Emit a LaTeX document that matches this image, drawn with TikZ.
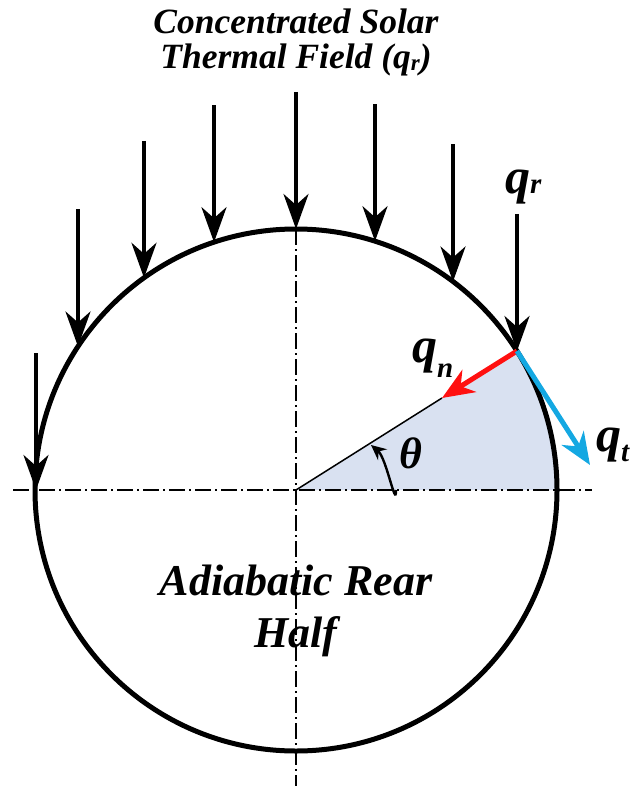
\documentclass[tikz,border=0pt]{standalone}
\usepackage{fontspec}
\setmainfont{Liberation Serif}
\usetikzlibrary{arrows.meta,calc}
\definecolor{sectorfill}{RGB}{217,225,241}
\definecolor{qnred}{RGB}{255,16,16}
\definecolor{qtblue}{RGB}{20,168,226}
\tikzset{
  axisline/.style={line width=1.5pt,dash pattern=on 16pt off 4pt on 2pt off 4pt},
  rayarrow/.style={line width=3.8pt,-{Stealth[length=35pt,width=25pt,inset=11pt]}},
  fluxarrow/.style={line width=5pt,-{Stealth[length=32pt,width=26pt,inset=10pt]}},
  lbl/.style={inner sep=0pt,font=\bfseries\itshape},
}
\newcommand{\qsym}[2]{\fontsize{50}{50}\selectfont q\raisebox{#2}{\fontsize{29}{29}\selectfont #1}}
\begin{document}
\begin{tikzpicture}[x=1pt,y=-1pt]
\useasboundingbox (0,0) rectangle (637,802);
\coordinate (c) at (296,490);
\coordinate (p) at (517,351);
% sector
\fill[sectorfill] (c) -- (557,490) arc[start angle=0,end angle=-32.35,radius=261] -- cycle;
% axes
\coordinate (hl) at (13,490); \coordinate (hr) at (592,490);
\coordinate (vt) at (296,229); \coordinate (vb) at (296,786);
\draw[axisline] (hl) -- (hr);
\draw[axisline] (vt) -- (vb);
% thin radius
\coordinate (nt) at (442,398);
\draw[line width=1.5pt] (c) -- (nt);
% circle
\node[draw,circle,line width=5pt,minimum size=522pt,inner sep=0pt] (circ) at (c) {};
% theta arc
\coordinate (a0) at (396,490);
\coordinate (a1) at (371,445);
\draw[line width=2.4pt,-{Stealth[length=15pt,width=14pt,inset=5pt]}] (a0) to[out=-90,in=-40] (a1);
% incoming rays
\foreach \n/\x/\y in {a/36/490,b/78/346.5,d/144/277.8,e/214/242.2,f/296/229,g/375/241.2,h/453/281.5,k/517/351}{
  \coordinate (e\n) at (\x,\y);
  \coordinate (s\n) at (\x,\y-137);
  \draw[rayarrow] (s\n) -- (e\n);
}
% flux arrows
\coordinate (tt) at (590,465);
\draw[fluxarrow,qnred] (p) -- (nt);
\draw[fluxarrow,qtblue] (p) -- (tt);
% labels
\node[lbl,font=\bfseries\itshape\fontsize{35.5}{35.5}\selectfont,anchor=base] (t1) at (296,34) {Concentrated Solar};
\node[lbl,font=\bfseries\itshape\fontsize{35.5}{35.5}\selectfont,anchor=base] (t2) at (296,69) {Thermal Field (\textit{q}\raisebox{-2pt}{\fontsize{23}{23}\selectfont r})};
\node[lbl,font=\bfseries\itshape\fontsize{44}{44}\selectfont,anchor=base] (ad1) at (296,595) {Adiabatic Rear};
\node[lbl,font=\bfseries\itshape\fontsize{44}{44}\selectfont,anchor=base] (ad2) at (296,647) {Half};
\node[lbl,anchor=base west] (qr) at (505,194) {\qsym{r}{0pt}};
\node[lbl,anchor=base west] (qn) at (412,362) {\qsym{n}{-15pt}};
\node[lbl,anchor=base west] (qt) at (596,451) {\qsym{t}{-10pt}};
\node[lbl,anchor=base west,font=\bfseries\itshape\fontsize{44}{44}\selectfont] (th) at (399,468) {θ};
\end{tikzpicture}
\end{document}
